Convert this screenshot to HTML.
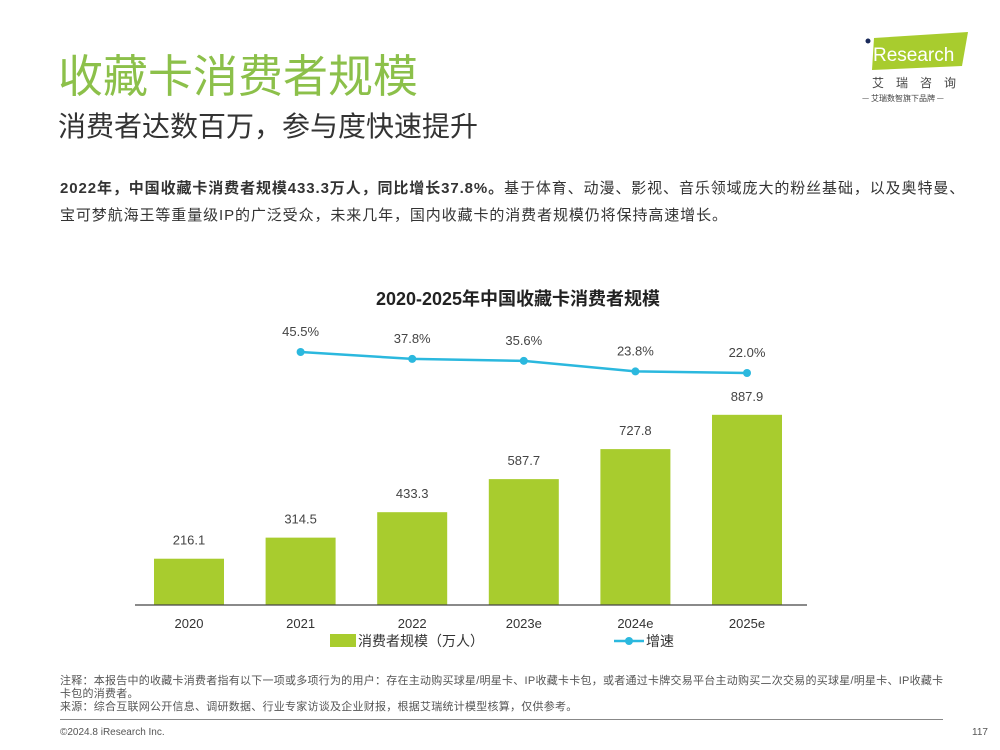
<!DOCTYPE html>
<html><head><meta charset="utf-8"><style>
body{margin:0;width:1000px;height:750px;background:#fff;position:relative;overflow:hidden;font-family:"Liberation Sans","Noto Sans CJK SC",sans-serif;}
.a{position:absolute;white-space:nowrap;}
</style></head><body>
<div class="a" style="left:58px;top:40px;font-size:45px;color:#8cc04a;">收藏卡消费者规模</div>
<div class="a" style="left:58px;top:105px;font-size:28px;color:#333;">消费者达数百万，参与度快速提升</div>
<div class="a" style="left:860px;top:30px;width:115px;height:75px;">
<svg width="115" height="75"><polygon points="14,8 108,2 102,36 12,40" fill="#a8cc2e"/><circle cx="8" cy="11" r="2.5" fill="#1a2a5a"/><text x="13" y="31" font-size="19" fill="#fff" font-family="Liberation Sans">Research</text>
<text x="12" y="57" font-size="12" fill="#444" letter-spacing="12" font-family="Noto Sans CJK SC">艾瑞咨询</text>
<text x="2" y="71" font-size="8" fill="#444" font-family="Noto Sans CJK SC">— 艾瑞数智旗下品牌 —</text></svg></div>
<div class="a" style="left:60px;top:175px;font-size:15px;letter-spacing:0.9px;color:#333;line-height:27px;"><b>2022年，中国收藏卡消费者规模433.3万人，同比增长37.8%。</b>基于体育、动漫、影视、音乐领域庞大的粉丝基础，以及奥特曼、<br>宝可梦航海王等重量级IP的广泛受众，未来几年，国内收藏卡的消费者规模仍将保持高速增长。</div>
<div class="a" style="left:0;width:1000px;text-align:center;top:285px;font-size:18px;font-weight:bold;color:#222;">　　2020-2025年中国收藏卡消费者规模</div>
<svg id="chart" class="a" style="left:0;top:0" width="1000" height="750"></svg>
<div class="a" style="left:60px;top:675px;font-size:11px;letter-spacing:0.25px;color:#555;line-height:13px;">注释：本报告中的收藏卡消费者指有以下一项或多项行为的用户：存在主动购买球星/明星卡、IP收藏卡卡包，或者通过卡牌交易平台主动购买二次交易的买球星/明星卡、IP收藏卡<br>卡包的消费者。<br>来源：综合互联网公开信息、调研数据、行业专家访谈及企业财报，根据艾瑞统计模型核算，仅供参考。</div>
<div class="a" style="left:60px;top:719px;width:883px;height:1px;background:#888;"></div>
<div class="a" style="left:60px;top:727px;font-size:10px;color:#555;">©2024.8 iResearch Inc.</div>
<div class="a" style="left:972px;top:727px;font-size:10px;color:#555;">117</div>
<script>
const categories=["2020","2021","2022","2023e","2024e","2025e"];
const consumers=[216.1,314.5,433.3,587.7,727.8,887.9];
const growth=[null,45.5,37.8,35.6,23.8,22.0];
const growthLabels=["","45.5%","37.8%","35.6%","23.8%","22.0%"];
const NS="http://www.w3.org/2000/svg",svg=document.getElementById('chart');
const x=i=>189+i*111.6, yb=v=>605-v*0.2142, yl=v=>352+(45.5-v)*0.894;
function mk(t,a){const e=document.createElementNS(NS,t);for(const k in a)e.setAttribute(k,a[k]);svg.appendChild(e);return e;}
consumers.forEach((v,i)=>{
 const r=mk('rect',{x:x(i)-35,y:yb(v),width:70,height:605-yb(v),fill:'#a8cc2e'});
 
 
 const t=mk('text',{x:x(i),y:yb(v)-14,'text-anchor':'middle','font-size':13,fill:'#444'});t.textContent=v.toFixed(1);
 
 
 const c=mk('text',{x:x(i),y:628,'text-anchor':'middle','font-size':13,fill:'#333'});c.textContent=categories[i];
 
 
});
const ax=mk('line',{x1:135,x2:807,y1:605,y2:605,stroke:'#444','stroke-width':1.2});


let pts=[];growth.forEach((v,i)=>{if(v!=null)pts.push(x(i)+','+yl(v));});
const pl=mk('polyline',{points:pts.join(' '),fill:'none',stroke:'#2bb8de','stroke-width':2.5});


growth.forEach((v,i)=>{if(v==null)return;
 const c=mk('circle',{cx:x(i),cy:yl(v),r:4,fill:'#2bb8de'});
 
 
 const t=mk('text',{x:x(i),y:yl(v)-16,'text-anchor':'middle','font-size':13,fill:'#444'});t.textContent=growthLabels[i];
 
 
});
const l1=mk('rect',{x:330,y:634,width:26,height:13,fill:'#a8cc2e'});


const lt1=mk('text',{x:358,y:646,'font-size':14,fill:'#333'});lt1.textContent='消费者规模（万人）';


const l2=mk('line',{x1:614,x2:644,y1:641,y2:641,stroke:'#2bb8de','stroke-width':2.5});


const l2c=mk('circle',{cx:629,cy:641,r:4,fill:'#2bb8de'});


const lt2=mk('text',{x:646,y:646,'font-size':14,fill:'#333'});lt2.textContent='增速';


</script>
</body></html>
